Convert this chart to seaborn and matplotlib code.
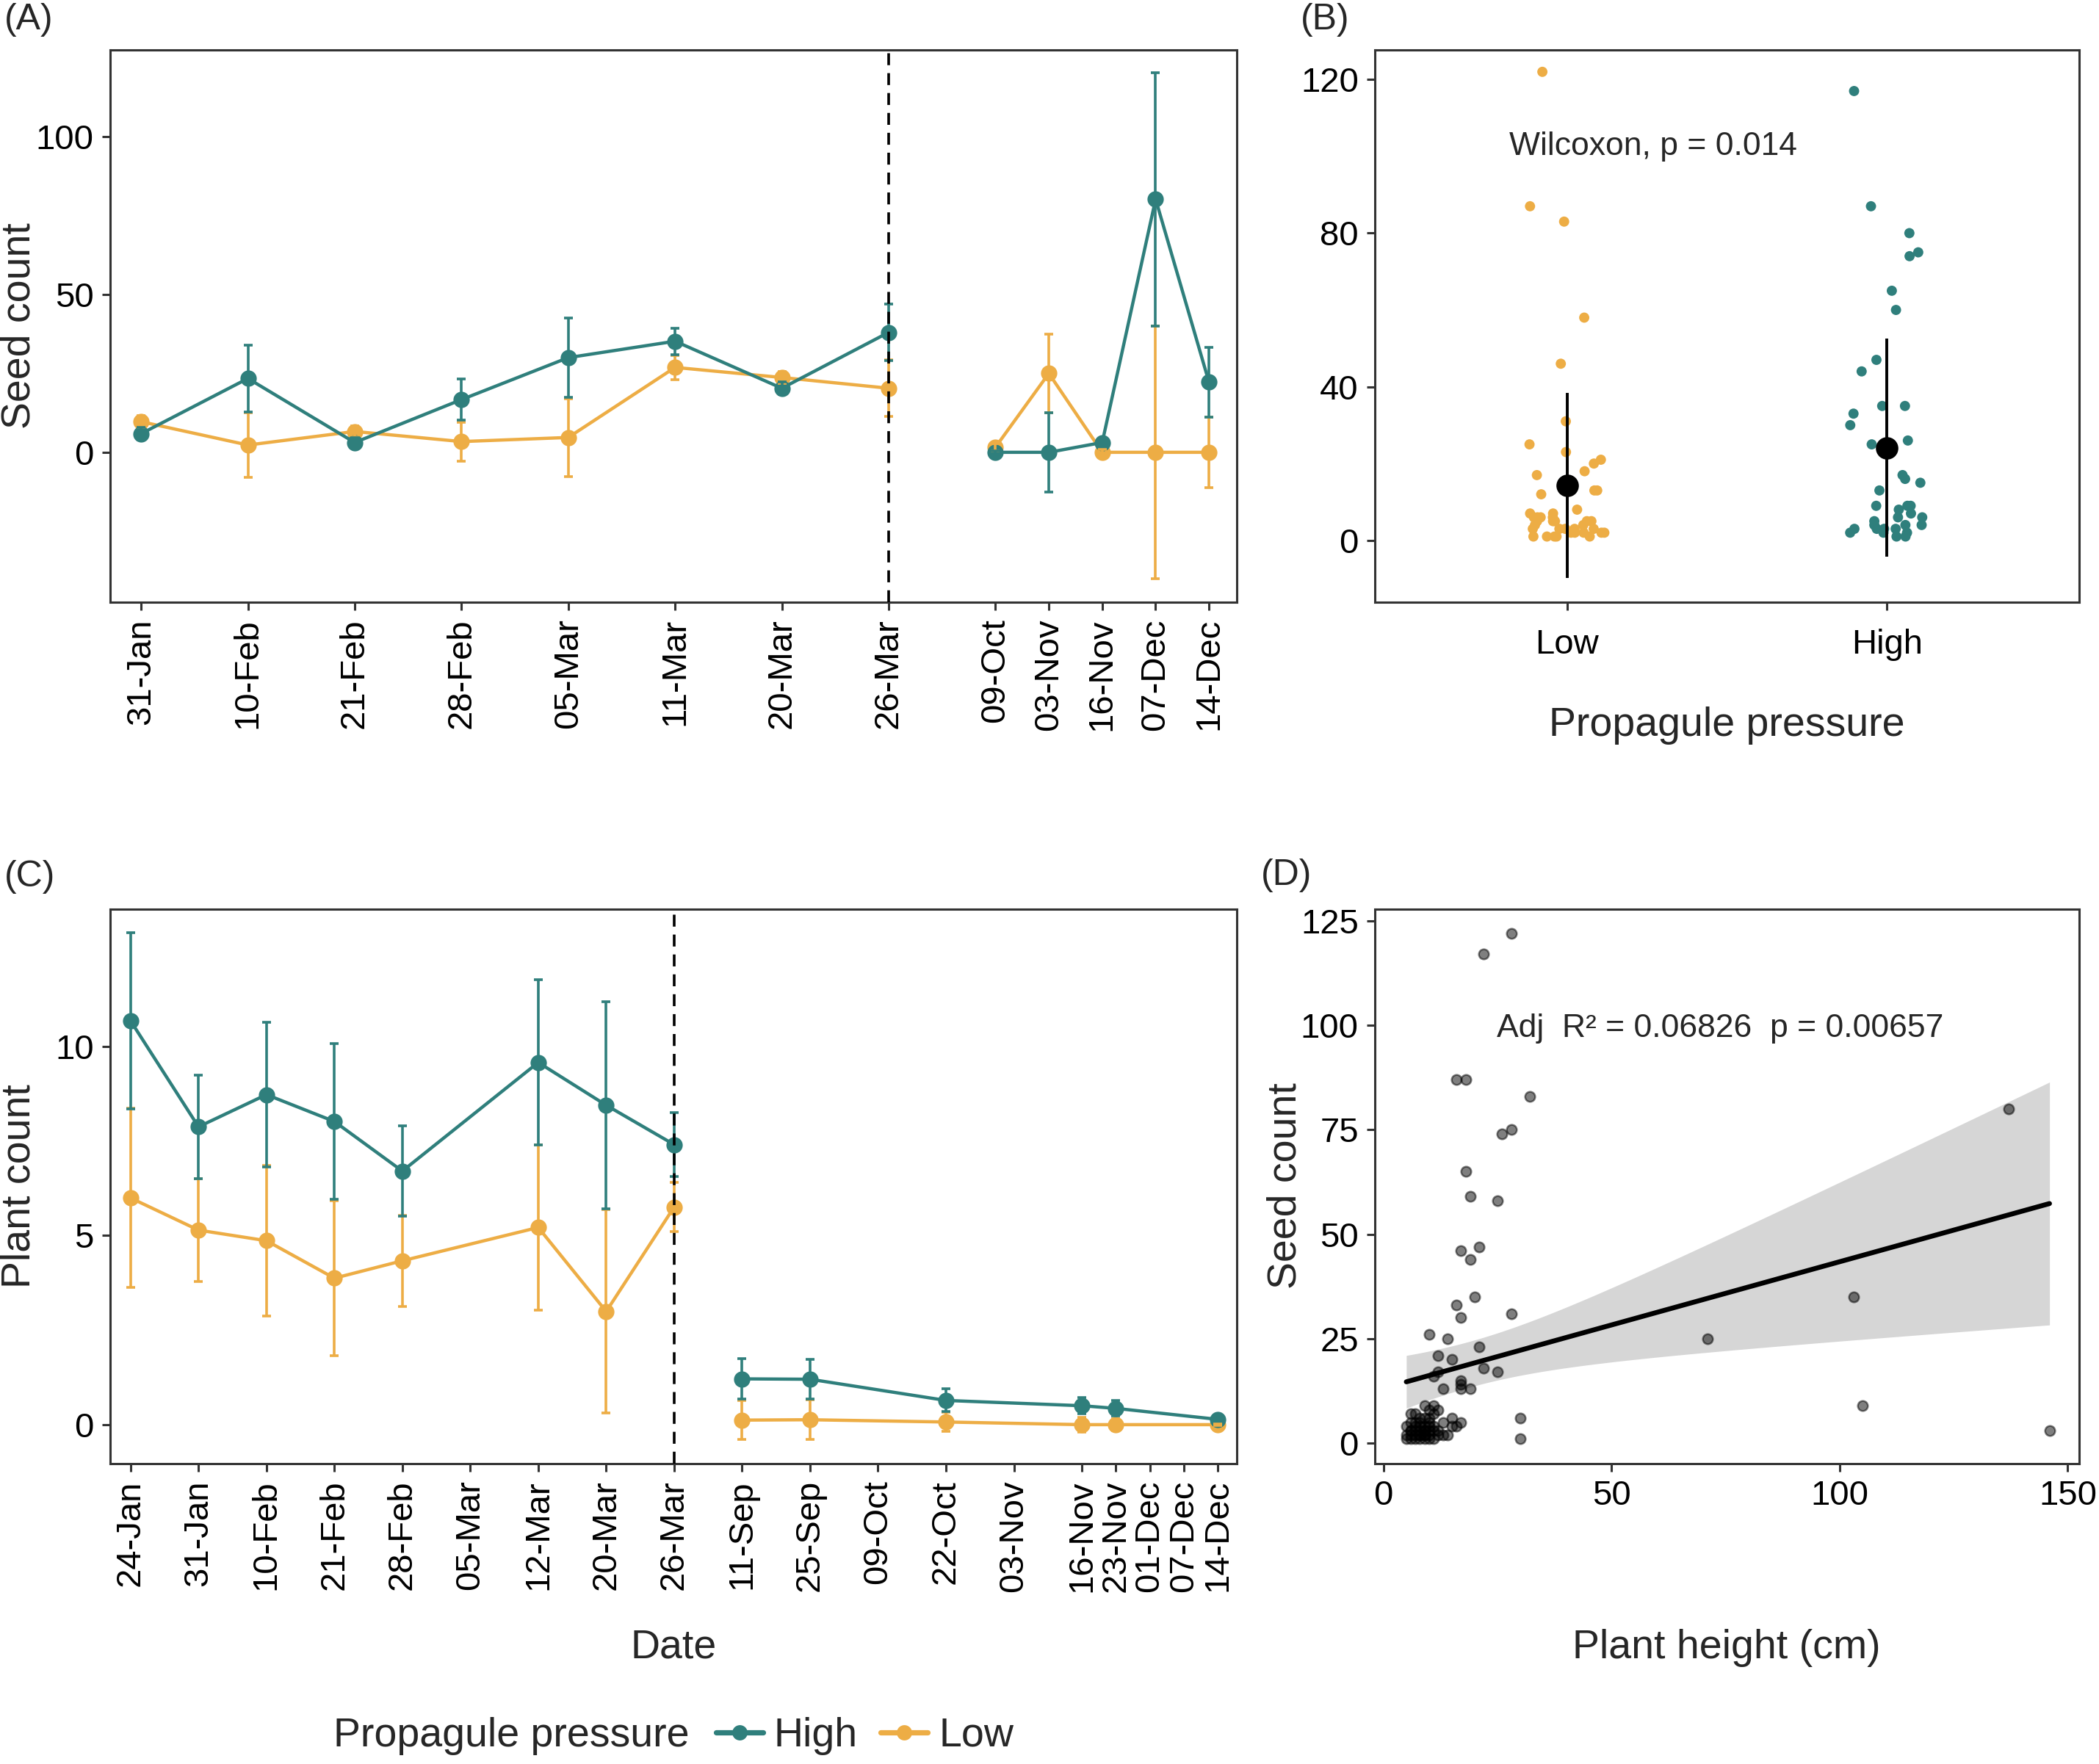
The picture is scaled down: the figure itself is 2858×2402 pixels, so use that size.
import numpy as np
import pandas as pd
import matplotlib
matplotlib.use("Agg")
import matplotlib.pyplot as plt
from matplotlib.lines import Line2D
import seaborn as sns

# ---- panel A: seed count per sampling date (mean +/- error) ----
dates_a = ["31-Jan", "10-Feb", "21-Feb", "28-Feb", "05-Mar", "11-Mar", "20-Mar", "26-Mar",
           "09-Oct", "03-Nov", "16-Nov", "07-Dec", "14-Dec"]
season_a = [1, 1, 1, 1, 1, 1, 1, 1, 2, 2, 2, 2, 2]
seed_high = [5.9, 23.4, 3.1, 16.7, 30.0, 35.2, 20.3, 38.0, 0.0, 0.0, 3.1, 80.2, 22.2]
seed_high_err = [2.0, 10.6, 1.5, 6.6, 12.6, 4.2, 2.0, 8.9, 0.5, 12.5, 1.0, 40.2, 11.1]
seed_low = [9.7, 2.3, 6.6, 3.4, 4.7, 26.9, 23.7, 20.3, 1.6, 25.0, 0.0, 0.0, 0.0]
seed_low_err = [1.8, 10.2, 1.8, 6.2, 12.3, 3.9, 1.8, 8.9, 1.2, 12.5, 0.8, 40.0, 11.2]

# ---- panel C: plant count per sampling date ----
ticks_c = ["24-Jan", "31-Jan", "10-Feb", "21-Feb", "28-Feb", "05-Mar", "12-Mar", "20-Mar",
           "26-Mar", "11-Sep", "25-Sep", "09-Oct", "22-Oct", "03-Nov", "16-Nov", "23-Nov",
           "01-Dec", "07-Dec", "14-Dec"]
dates_c = ["24-Jan", "31-Jan", "10-Feb", "21-Feb", "28-Feb", "12-Mar", "20-Mar", "26-Mar",
           "11-Sep", "25-Sep", "22-Oct", "16-Nov", "23-Nov", "14-Dec"]
season_c = [1, 1, 1, 1, 1, 1, 1, 1, 2, 2, 2, 2, 2, 2]
plant_high = [10.67, 7.87, 8.72, 8.01, 6.70, 9.57, 8.44, 7.40, 1.21, 1.20, 0.64, 0.50, 0.43, 0.14]
plant_high_err = [2.33, 1.37, 1.92, 2.05, 1.20, 2.18, 2.73, 0.85, 0.54, 0.52, 0.30, 0.22, 0.20, 0.05]
plant_low = [5.99, 5.14, 4.86, 3.87, 4.33, 5.21, 2.99, 5.75, 0.12, 0.13, 0.07, 0.0, 0.0, 0.0]
plant_low_err = [2.37, 1.35, 1.99, 2.05, 1.20, 2.18, 2.69, 0.65, 0.51, 0.52, 0.25, 0.20, 0.15, 0.02]

# ---- panel B: seed counts per plant by propagule pressure ----
seeds_low_b = [122, 87, 83, 58, 46, 31, 25, 23, 21, 20, 18, 17, 13, 13, 12, 8, 7, 6, 6, 6,
               5, 5, 5, 5, 5, 4, 4, 3, 3, 3, 3, 3, 2, 2, 2, 2, 2, 1, 1, 1, 1, 1, 6, 7]
seeds_high_b = [117, 87, 80, 75, 74, 65, 60, 47, 44, 35, 35, 33, 30, 26, 25, 17, 16, 15, 13,
                9, 9, 9, 8, 7, 6, 6, 5, 4, 4, 4, 3, 3, 3, 3, 2, 2, 2, 1, 1]
mean_b = [14.3, 24.1]
sd_b = [24.1, 28.4]

# ---- panel D: seed count vs plant height ----
height_d = [28, 22, 16, 18, 32, 28, 26, 18, 19, 25, 17, 21, 19, 20, 16, 28, 17, 10, 14, 12,
            21, 15, 22, 25, 12, 11, 17, 17, 17, 13, 19, 30, 30,
            137, 103, 71, 105, 146,
            9, 11, 12, 10, 6, 7, 11, 15, 17, 15, 16, 13, 5, 8, 9, 10, 8, 9, 10, 6, 7, 5,
            6, 9, 10, 11, 6, 8, 10, 7, 9, 12, 8, 7, 9, 6, 8, 11, 13, 14,
            5, 6, 7, 8, 9, 10, 11, 12, 7, 8, 9, 10]
seeds_d = [122, 117, 87, 87, 83, 75, 74, 65, 59, 58, 46, 47, 44, 35, 33, 31, 30, 26, 25, 21,
           23, 20, 18, 17, 17, 16, 15, 14, 13, 13, 13, 6, 1,
           80, 35, 25, 9, 3,
           9, 9, 8, 8, 7, 7, 7, 6, 5, 4, 4, 2, 4, 5, 6, 6, 3, 3, 3, 2, 3, 1,
           1, 1, 1, 1, 5, 6, 4, 2, 2, 2, 4, 5, 4, 3, 2, 3, 5, 2,
           2, 3, 4, 2, 3, 2, 4, 3, 1, 1, 2, 5]

teal = "#2f7f7c"
orange = "#edad45"
W, H = 2858, 2402

sns.set_theme(style="ticks")
plt.rcParams["font.family"] = ["Liberation Sans", "DejaVu Sans"]
plt.rcParams.update({
    "axes.edgecolor": "#333333", "axes.linewidth": 1.1,
    "xtick.major.size": 4, "ytick.major.size": 4,
    "xtick.major.width": 1.1, "ytick.major.width": 1.1,
    "xtick.color": "#333333", "ytick.color": "#333333",
    "xtick.labelcolor": "black", "ytick.labelcolor": "black",
    "xtick.major.pad": 4, "ytick.major.pad": 4,
    "xtick.labelsize": 17, "ytick.labelsize": 17,
})

fig = plt.figure(figsize=(W / 200, H / 200), dpi=200)


def px_axes(left, right, top, bottom):
    return fig.add_axes([left / W, 1 - bottom / H, (right - left) / W, (bottom - top) / H])


def label_px(ax, which, text, xpx, ypx):
    # place axis titles at pixel positions (converted to axes fraction)
    bb = ax.get_position()
    fx = (xpx / W - bb.x0) / bb.width
    fy = ((1 - ypx / H) - bb.y0) / bb.height
    if which == "y":
        ax.set_ylabel(text, fontsize=20, va="center")
        ax.yaxis.set_label_coords(fx, fy)
    else:
        ax.set_xlabel(text, fontsize=20, va="center")
        ax.xaxis.set_label_coords(fx, fy)


def series_panel(ax, pos, season, low, low_err, high, high_err):
    rows = []
    for grp, vals in (("Low", low), ("High", high)):
        for p, s, v in zip(pos, season, vals):
            rows.append({"pos": p, "value": v, "group": grp, "season": s})
    frame = pd.DataFrame(rows)
    sns.lineplot(data=frame, x="pos", y="value", hue="group", units="season", estimator=None,
                 hue_order=["Low", "High"], palette={"Low": orange, "High": teal},
                 marker="o", markersize=8, markeredgewidth=0, linewidth=1.6,
                 legend=False, ax=ax, zorder=2)
    ax.errorbar(pos, low, yerr=low_err, fmt="none", ecolor=orange, elinewidth=1.3,
                capsize=2.2, capthick=1.3, zorder=2)
    ax.errorbar(pos, high, yerr=high_err, fmt="none", ecolor=teal, elinewidth=1.3,
                capsize=2.2, capthick=1.3, zorder=2.5)


# ---------------- panel A ----------------
axa = px_axes(150, 1684, 68, 820)
pos_a = [float(p) for p in range(9)] + [8.5, 9.0, 9.5, 10.0]
series_panel(axa, pos_a, season_a, seed_low, seed_low_err, seed_high, seed_high_err)
axa.axvline(7, color="black", ls=(0, (4.5, 3)), lw=1.3, zorder=3)
axa.set_xlim(-0.29, 10.26)
axa.set_ylim(-47.5, 127.5)
axa.set_yticks([0, 50, 100])
axa.set_xticks(pos_a)
axa.set_xticklabels(dates_a, rotation=90)
axa.set_xlabel("")
label_px(axa, "y", "Seed count", 26, 444)

# ---------------- panel C ----------------
axc = px_axes(150, 1684, 1238, 1993)
pos_map = dict(zip(ticks_c, [float(i) for i in range(15)] + [14.5, 15.0, 15.5, 16.0]))
pos_c = [pos_map[d] for d in dates_c]
series_panel(axc, pos_c, season_c, plant_low, plant_low_err, plant_high, plant_high_err)
axc.axvline(pos_map["26-Mar"], color="black", ls=(0, (4.5, 3)), lw=1.3, zorder=3)
axc.set_xlim(-0.3, 16.28)
axc.set_ylim(-1.03, 13.62)
axc.set_yticks([0, 5, 10])
axc.set_xticks([pos_map[t] for t in ticks_c])
axc.set_xticklabels(ticks_c, rotation=90)
label_px(axc, "y", "Plant count", 26, 1615)
label_px(axc, "x", "Date", 917, 2244)

# ---------------- panel B ----------------
axb = px_axes(1872, 2831, 68, 820)
df_b = pd.DataFrame({
    "pressure": ["Low"] * len(seeds_low_b) + ["High"] * len(seeds_high_b),
    "seeds": seeds_low_b + seeds_high_b,
})
np.random.seed(11)
sns.stripplot(data=df_b, x="pressure", y="seeds", order=["Low", "High"], hue="pressure",
              palette={"Low": orange, "High": teal}, jitter=0.12, size=5, linewidth=0,
              legend=False, ax=axb, zorder=2)
axb.errorbar([0, 1], mean_b, yerr=sd_b, fmt="o", color="black", ms=10, elinewidth=1.4,
             capsize=0, zorder=3)
axb.set_xlim(-0.6, 1.6)
axb.set_ylim(-16.1, 127.7)
axb.set_yticks([0, 40, 80, 120])
axb.set_ylabel("")
axb.tick_params(axis="x", pad=9)
axb.text(-0.18, 102.6, "Wilcoxon, p = 0.014", fontsize=16, ha="left", va="center")
label_px(axb, "x", "Propagule pressure", 2351, 988)

# ---------------- panel D ----------------
axd = px_axes(1872, 2831, 1238, 1993)
sns.regplot(x=height_d, y=seeds_d, ax=axd, ci=None, color="black",
            scatter_kws=dict(s=24, color="black", alpha=0.5, linewidths=0.9,
                             edgecolors="black", zorder=2),
            line_kws=dict(color="black", lw=2.4, zorder=3))
# linear-model confidence band (t-based, like geom_smooth(method = "lm"))
hx = np.asarray(height_d, dtype=float)
sy = np.asarray(seeds_d, dtype=float)
slope, icept = np.polyfit(hx, sy, 1)
resid = sy - (slope * hx + icept)
n = len(hx)
s_err = np.sqrt(np.sum(resid ** 2) / (n - 2))
grid = np.linspace(hx.min(), hx.max(), 200)
se_fit = s_err * np.sqrt(1 / n + (grid - hx.mean()) ** 2 / np.sum((hx - hx.mean()) ** 2))
axd.fill_between(grid, slope * grid + icept - 1.987 * se_fit, slope * grid + icept + 1.987 * se_fit,
                 color="#d6d6d6", lw=0, zorder=1)
axd.set_xlim(-1.9, 152.5)
axd.set_ylim(-4.9, 127.8)
axd.set_xticks([0, 50, 100, 150])
axd.set_yticks([0, 25, 50, 75, 100, 125])
axd.text(24.8, 99.3, "Adj  R\u00b2 = 0.06826  p = 0.00657", fontsize=16, ha="left", va="center")
label_px(axd, "y", "Seed count", 1750, 1615)
label_px(axd, "x", "Plant height (cm)", 2351, 2244)

# panel tags
for tag, x, y in (("(A)", 6, 27), ("(B)", 1771, 27), ("(C)", 6, 1194), ("(D)", 1717, 1192)):
    fig.text(x / W, 1 - y / H, tag, fontsize=18, ha="left", va="center")

# legend along the bottom
fig.text(454 / W, 1 - 2364 / H, "Propagule pressure", fontsize=20, ha="left", va="center")
handles = [Line2D([0], [0], color=teal, lw=2.6, marker="o", ms=7.5, markeredgewidth=0),
           Line2D([0], [0], color=orange, lw=2.6, marker="o", ms=7.5, markeredgewidth=0)]
fig.legend(handles, ["High", "Low"], loc="center left", bbox_to_anchor=(975 / W, 1 - 2364 / H),
           ncol=2, frameon=False, fontsize=20, handlelength=1.15, handletextpad=0.27,
           columnspacing=0.56, borderpad=0, borderaxespad=0)

fig.savefig("out.png", dpi=200, facecolor="white")
